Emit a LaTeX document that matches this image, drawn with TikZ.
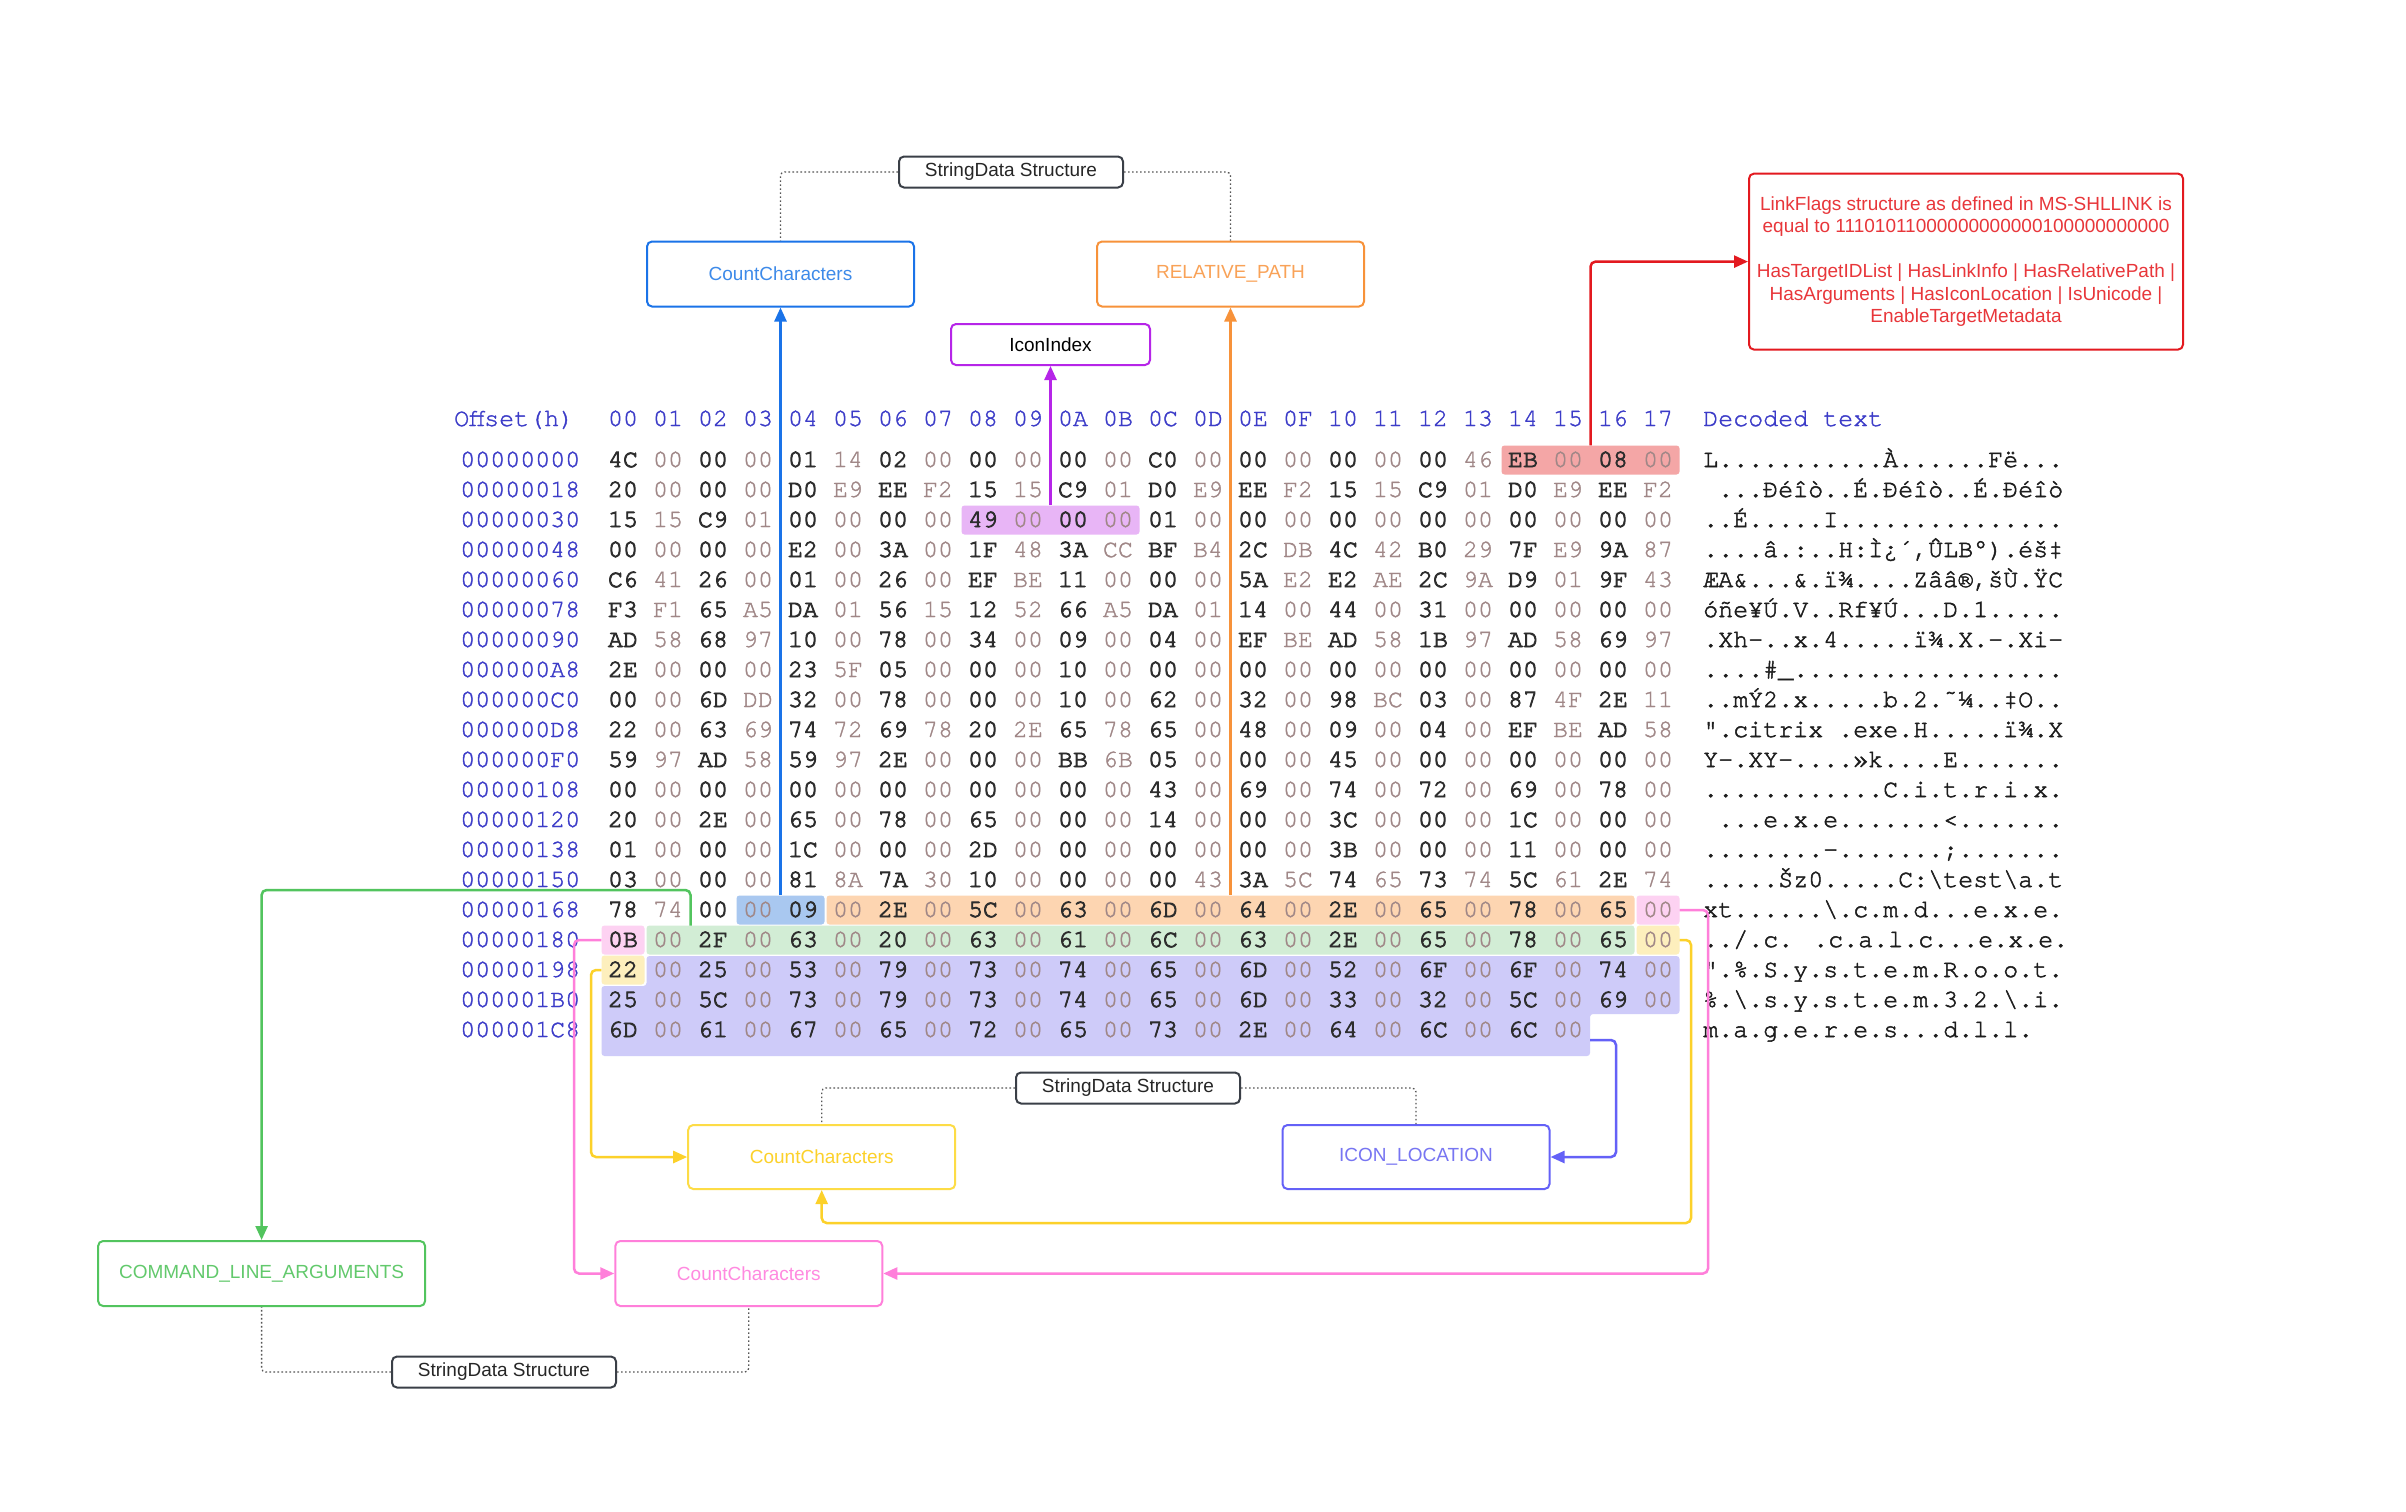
\documentclass[tikz,border=0pt]{standalone}
\usepackage{fontspec}
\setmainfont{Liberation Sans}
\newfontfamily\boxfont{Liberation Sans}
\newfontfamily\hexfontL{TeX Gyre Cursor}[FakeBold=1.4]
\newfontfamily\hexfontM{TeX Gyre Cursor}[FakeBold=2.0]
\newfontfamily\hexfontD{TeX Gyre Cursor}[FakeBold=3.4]
\usetikzlibrary{arrows.meta,calc}

\definecolor{colOff}{RGB}{60,60,200}
\definecolor{colHexDk}{RGB}{45,45,45}
\definecolor{colHexLt}{RGB}{160,135,135}
\definecolor{colDec}{RGB}{30,30,30}
\definecolor{hlcRed}{HTML}{F4A6A6}
\definecolor{hlcPurple}{HTML}{E8B5F6}
\definecolor{hlcBlue}{HTML}{A9C8F0}
\definecolor{hlcOrange}{HTML}{FDD5B1}
\definecolor{hlcPink}{HTML}{FDD2F2}
\definecolor{hlcGreen}{HTML}{D2EDD5}
\definecolor{hlcYellow}{HTML}{FDEFBD}
\definecolor{hlcViolet}{HTML}{CECBF9}
\definecolor{cBlue}{HTML}{1A73E8}
\definecolor{cBlueT}{HTML}{3D8AE9}
\definecolor{cOrange}{HTML}{F7923A}
\definecolor{cOrangeT}{HTML}{F9A257}
\definecolor{cPurple}{HTML}{B625E8}
\definecolor{cRed}{HTML}{E3191F}
\definecolor{cRedT}{HTML}{E8363A}
\definecolor{cGreen}{HTML}{52C45E}
\definecolor{cGreenT}{HTML}{62C96C}
\definecolor{cYellow}{HTML}{FCD12A}
\definecolor{cYellowB}{HTML}{FDDC46}
\definecolor{cPink}{HTML}{FF7FDA}
\definecolor{cPinkT}{HTML}{FF8AE0}
\definecolor{cViolet}{HTML}{6461F7}
\definecolor{cVioletT}{HTML}{7775F2}
\definecolor{sdc}{HTML}{3A3F47}
\definecolor{dotc}{HTML}{555555}

\tikzset{
  hexdk/.style={font=\hexfontD\fontsize{25}{30}\selectfont, text=colHexDk, inner sep=0pt, anchor=base},
  hexlt/.style={font=\hexfontL\fontsize{25}{30}\selectfont, text=colHexLt, inner sep=0pt, anchor=base},
  offs/.style={font=\hexfontL\fontsize{25}{30}\selectfont, text=colOff, inner sep=0pt, anchor=base west},
  hdr/.style={font=\hexfontL\fontsize{25}{30}\selectfont, text=colOff, inner sep=0pt},
  dec/.style={font=\hexfontM\fontsize{25}{30}\selectfont, text=colDec, inner sep=0pt, anchor=base west},
  hl/.style={draw=none, rounded corners=3pt, inner sep=0pt},
  cbox/.style={draw, line width=2pt, rounded corners=5pt, fill=white, minimum width=267pt, minimum height=65pt, inner sep=4pt, font=\boxfont\fontsize{19}{22.4}\selectfont},
  sdbox/.style={draw=sdc, line width=2pt, rounded corners=5pt, fill=white, minimum width=224pt, minimum height=31pt, inner sep=2pt, text=black!85, font=\boxfont\fontsize{19}{22}\selectfont},
  conn/.style={line width=2.5pt, rounded corners=5pt, -{Triangle[length=14pt,width=12pt]}},
  dotl/.style={draw=dotc, line width=1.3pt, dash pattern=on 1.6pt off 2.4pt, rounded corners=4pt}
}

\newcommand\hexrow[3]{%
  \pgfmathsetmacro\rowy{460+30*#1+7}
  \node[offs] (off#1) at (460,\rowy) {#2};
  \foreach \b [count=\c from 0] in {#3} {
    \pgfmathsetmacro\colx{623+45*\c}
    \ifodd\c\relax
      \node[hexlt] (b#1-\c) at (\colx,\rowy) {\b};
    \else
      \node[hexdk] (b#1-\c) at (\colx,\rowy) {\b};
    \fi
  }
}
\newcommand\decrow[2]{%
  \pgfmathsetmacro\rowy{460+30*#1+7}
  \node[dec] (dec#1) at (1703,\rowy) {#2};
}
\newcommand\hlcell[5]{%
  \pgfmathsetmacro\hlx{623+45*(#4+#5)/2}
  \pgfmathsetmacro\hly{460+30*#3}
  \pgfmathsetmacro\hlw{45*(#5-#4+1)-2}
  \node[hl, fill=#2, minimum width=\hlw pt, minimum height=29pt] (#1) at (\hlx,\hly) {};
}

\begin{document}
\begin{tikzpicture}[x=1pt,y=-1pt]
\fill[white] (0,0) rectangle (2406,1512);
\useasboundingbox (0,0) rectangle (2406,1512);

% highlights
\hlcell{hlRed}{hlcRed}{0}{20}{23}
\hlcell{hlPurple}{hlcPurple}{2}{8}{11}
\hlcell{hlBlue}{hlcBlue}{15}{3}{4}
\hlcell{hlOrange}{hlcOrange}{15}{5}{22}
\hlcell{hlPinkA}{hlcPink}{15}{23}{23}
\hlcell{hlPinkB}{hlcPink}{16}{0}{0}
\hlcell{hlGreen}{hlcGreen}{16}{1}{22}
\hlcell{hlYellowA}{hlcYellow}{16}{23}{23}
\hlcell{hlYellowB}{hlcYellow}{17}{0}{0}
\fill[hlcViolet, rounded corners=3pt] (646.5,956) -- (1679.5,956) -- (1679.5,1014) -- (1590,1014) -- (1590,1056) -- (601.5,1056) -- (601.5,986) -- (646.5,986) -- cycle;

% header
\node[hdr, anchor=base west] (hOff) at (454,426) {Offset(h)};
\foreach \h [count=\c from 0] in {00,01,02,03,04,05,06,07,08,09,0A,0B,0C,0D,0E,0F,10,11,12,13,14,15,16,17}
  \node[hdr, anchor=base] (hc\c) at ({623+45*\c},426) {\h};
\node[hdr, anchor=base west] (hDec) at (1703,426) {Decoded text};

% hex rows
\hexrow{0}{00000000}{4C,00,00,00,01,14,02,00,00,00,00,00,C0,00,00,00,00,00,00,46,EB,00,08,00}
\hexrow{1}{00000018}{20,00,00,00,D0,E9,EE,F2,15,15,C9,01,D0,E9,EE,F2,15,15,C9,01,D0,E9,EE,F2}
\hexrow{2}{00000030}{15,15,C9,01,00,00,00,00,49,00,00,00,01,00,00,00,00,00,00,00,00,00,00,00}
\hexrow{3}{00000048}{00,00,00,00,E2,00,3A,00,1F,48,3A,CC,BF,B4,2C,DB,4C,42,B0,29,7F,E9,9A,87}
\hexrow{4}{00000060}{C6,41,26,00,01,00,26,00,EF,BE,11,00,00,00,5A,E2,E2,AE,2C,9A,D9,01,9F,43}
\hexrow{5}{00000078}{F3,F1,65,A5,DA,01,56,15,12,52,66,A5,DA,01,14,00,44,00,31,00,00,00,00,00}
\hexrow{6}{00000090}{AD,58,68,97,10,00,78,00,34,00,09,00,04,00,EF,BE,AD,58,1B,97,AD,58,69,97}
\hexrow{7}{000000A8}{2E,00,00,00,23,5F,05,00,00,00,10,00,00,00,00,00,00,00,00,00,00,00,00,00}
\hexrow{8}{000000C0}{00,00,6D,DD,32,00,78,00,00,00,10,00,62,00,32,00,98,BC,03,00,87,4F,2E,11}
\hexrow{9}{000000D8}{22,00,63,69,74,72,69,78,20,2E,65,78,65,00,48,00,09,00,04,00,EF,BE,AD,58}
\hexrow{10}{000000F0}{59,97,AD,58,59,97,2E,00,00,00,BB,6B,05,00,00,00,45,00,00,00,00,00,00,00}
\hexrow{11}{00000108}{00,00,00,00,00,00,00,00,00,00,00,00,43,00,69,00,74,00,72,00,69,00,78,00}
\hexrow{12}{00000120}{20,00,2E,00,65,00,78,00,65,00,00,00,14,00,00,00,3C,00,00,00,1C,00,00,00}
\hexrow{13}{00000138}{01,00,00,00,1C,00,00,00,2D,00,00,00,00,00,00,00,3B,00,00,00,11,00,00,00}
\hexrow{14}{00000150}{03,00,00,00,81,8A,7A,30,10,00,00,00,00,43,3A,5C,74,65,73,74,5C,61,2E,74}
\hexrow{15}{00000168}{78,74,00,00,09,00,2E,00,5C,00,63,00,6D,00,64,00,2E,00,65,00,78,00,65,00}
\hexrow{16}{00000180}{0B,00,2F,00,63,00,20,00,63,00,61,00,6C,00,63,00,2E,00,65,00,78,00,65,00}
\hexrow{17}{00000198}{22,00,25,00,53,00,79,00,73,00,74,00,65,00,6D,00,52,00,6F,00,6F,00,74,00}
\hexrow{18}{000001B0}{25,00,5C,00,73,00,79,00,73,00,74,00,65,00,6D,00,33,00,32,00,5C,00,69,00}
\hexrow{19}{000001C8}{6D,00,61,00,67,00,65,00,72,00,65,00,73,00,2E,00,64,00,6C,00,6C,00}

% decoded text
\decrow{0}{L...........À......Fë...}
\decrow{1}{\ ...Ðéîò..É.Ðéîò..É.Ðéîò}
\decrow{2}{..É.....I...............}
\decrow{3}{....â.:..H:Ì¿´,ÛLB°).éš‡}
\decrow{4}{ÆA\&...\&.ï¾....Zââ®,šÙ.ŸC}
\decrow{5}{óñe¥Ú.V..Rf¥Ú...D.1.....}
\decrow{6}{.Xh—..x.4.....ï¾.X.—.Xi—}
\decrow{7}{....\#\_..................}
\decrow{8}{..mÝ2.x.....b.2.˜¼..‡O..}
\decrow{9}{".citrix .exe.H.....ï¾.X}
\decrow{10}{Y—.XY—....»k....E.......}
\decrow{11}{............C.i.t.r.i.x.}
\decrow{12}{\ ...e.x.e.......<.......}
\decrow{13}{........-.......;.......}
\decrow{14}{.....Šz0.....C:\textbackslash test\textbackslash a.t}
\decrow{15}{xt......\textbackslash.c.m.d...e.x.e.}
\decrow{16}{../.c. .c.a.l.c...e.x.e.}
\decrow{17}{".\%.S.y.s.t.e.m.R.o.o.t.}
\decrow{18}{\%.\textbackslash.s.y.s.t.e.m.3.2.\textbackslash.i.}
\decrow{19}{m.a.g.e.r.e.s...d.l.l.}

% boxes
\node[sdbox] (sdTop) at (1011,172) {StringData Structure};
\node[cbox, draw=cBlue, text=cBlueT] (ccBlue) at (780.5,274) {CountCharacters};
\node[cbox, draw=cOrange, text=cOrangeT] (relPath) at (1230.5,274) {RELATIVE\_PATH};
\node[cbox, draw=cPurple, text=black, minimum width=199pt, minimum height=41pt] (iconIdx) at (1050.5,344.5) {IconIndex};
\node[cbox, draw=cRed, text=cRedT, minimum width=434pt, minimum height=176pt, align=center] (redBox) at (1966,261.6)
  {LinkFlags structure as defined in MS-SHLLINK is\\ equal to 11101011000000000000100000000000\\[22.4pt]
   HasTargetIDList | HasLinkInfo | HasRelativePath |\\ HasArguments | HasIconLocation | IsUnicode |\\ EnableTargetMetadata};
\node[sdbox] (sdMid) at (1128,1088) {StringData Structure};
\node[cbox, draw=cYellowB, text=cYellow, minimum height=64pt] (ccYellow) at (821.7,1157) {CountCharacters};
\node[cbox, draw=cViolet, text=cVioletT, minimum height=64pt] (iconLoc) at (1416,1157) {ICON\_LOCATION};
\node[cbox, draw=cGreen, text=cGreenT, minimum width=327pt] (cmdArgs) at (261.6,1273.5) {COMMAND\_LINE\_ARGUMENTS};
\node[cbox, draw=cPink, text=cPinkT] (ccPink) at (748.8,1273.5) {CountCharacters};
\node[sdbox] (sdBot) at (504,1372) {StringData Structure};

% dotted structure links
\draw[dotl] (sdTop.west) -| (ccBlue.north);
\draw[dotl] (sdTop.east) -| (relPath.north);
\draw[dotl] (sdMid.west) -| (ccYellow.north);
\draw[dotl] (sdMid.east) -| (iconLoc.north);
\draw[dotl] (sdBot.west) -| (cmdArgs.south);
\draw[dotl] (sdBot.east) -| (ccPink.south);

% coordinates for connector bends
\coordinate (gStart) at (690.5,925.5);
\coordinate (gTurn) at (690.5,890);
\coordinate (pkL) at (574,940);
\coordinate (pkR) at (1708,910);
\coordinate (ylL) at (591,970);
\coordinate (ylR) at (1691,940);
\coordinate (ylB) at (1691,1223);
\coordinate (vStart) at (1590,1040);
\coordinate (vR) at (1616,1040);

% connectors
\draw[conn, cBlue] (hlBlue.north) -- (hlBlue.north |- ccBlue.south);
\draw[conn, cPurple] (hlPurple.north) -- (hlPurple.north |- iconIdx.south);
\draw[conn, cOrange] (relPath.south |- hlOrange.north) -- (relPath.south);
\draw[conn, cRed] (hlRed.north) |- (redBox.west);
\draw[conn, cGreen] (gStart) -- (gTurn) -| (cmdArgs.north);
\draw[conn, cPink] (hlPinkB.west) -- (pkL) |- (ccPink.west);
\draw[conn, cPink] (hlPinkA.east) -- (pkR) |- (ccPink.east);
\draw[conn, cYellow] (hlYellowB.west) -- (ylL) |- (ccYellow.west);
\draw[conn, cYellow] (hlYellowA.east) -- (ylR) -- (ylB) -| (ccYellow.south);
\draw[conn, cViolet] (vStart) -- (vR) |- (iconLoc.east);
\end{tikzpicture}
\end{document}
